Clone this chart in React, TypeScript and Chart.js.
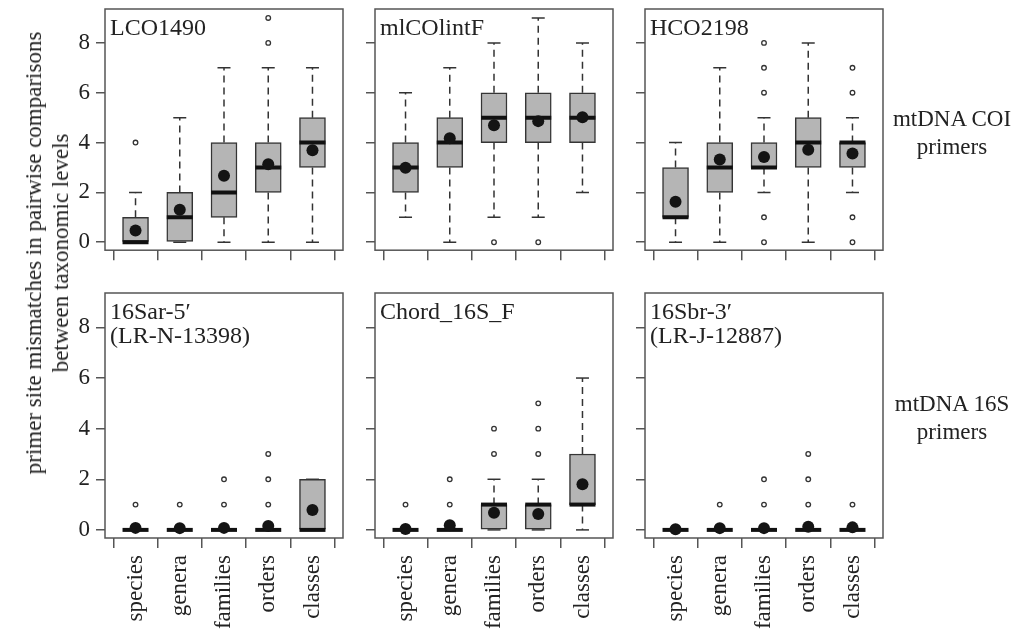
import React, { useEffect, useRef } from 'react';
import { Chart, registerables } from 'chart.js';

Chart.register(...registerables);

const categories = ['species', 'genera', 'families', 'orders', 'classes'];
const yTickValues = [0, 2, 4, 6, 8];

// LCO1490
const lcoLow = [0, 0, 0, 0, 0];
const lcoQ1 = [0, 0, 1, 2, 3];
const lcoMedian = [0, 1, 2, 3, 4];
const lcoQ3 = [1, 2, 4, 4, 5];
const lcoHigh = [2, 5, 7, 7, 7];
const lcoMean = [0.47, 1.3, 2.67, 3.13, 3.69];
const lcoOutliers = [[4], [], [], [8, 9], []];

// mlCOlintF
const mlcLow = [1, 0, 1, 1, 2];
const mlcQ1 = [2, 3, 4, 4, 4];
const mlcMedian = [3, 4, 5, 5, 5];
const mlcQ3 = [4, 5, 6, 6, 6];
const mlcHigh = [6, 7, 8, 9, 8];
const mlcMean = [2.99, 4.17, 4.69, 4.86, 5.02];
const mlcOutliers = [[], [], [0], [0], []];

// HCO2198
const hcoLow = [0, 0, 2, 0, 2];
const hcoQ1 = [1, 2, 3, 3, 3];
const hcoMedian = [1, 3, 3, 4, 4];
const hcoQ3 = [3, 4, 4, 5, 4];
const hcoHigh = [4, 7, 5, 8, 5];
const hcoMean = [1.62, 3.32, 3.42, 3.71, 3.56];
const hcoOutliers = [[], [], [0, 1, 6, 7, 8], [], [0, 1, 6, 7]];

// 16Sar-5' (LR-N-13398)
const sarLow = [0, 0, 0, 0, 0];
const sarQ1 = [0, 0, 0, 0, 0];
const sarMedian = [0, 0, 0, 0, 0];
const sarQ3 = [0, 0, 0, 0, 2];
const sarHigh = [0, 0, 0, 0, 2];
const sarMean = [0.08, 0.07, 0.08, 0.15, 0.79];
const sarOutliers = [[1], [1], [1, 2], [1, 2, 3], []];

// Chord_16S_F
const chdLow = [0, 0, 0, 0, 0];
const chdQ1 = [0, 0, 0, 0, 1];
const chdMedian = [0, 0, 1, 1, 1];
const chdQ3 = [0, 0, 1, 1, 3];
const chdHigh = [0, 0, 2, 2, 6];
const chdMean = [0.04, 0.18, 0.68, 0.63, 1.8];
const chdOutliers = [[1], [1, 2], [3, 4], [3, 4, 5], []];

// 16Sbr-3' (LR-J-12887)
const sbrLow = [0, 0, 0, 0, 0];
const sbrQ1 = [0, 0, 0, 0, 0];
const sbrMedian = [0, 0, 0, 0, 0];
const sbrQ3 = [0, 0, 0, 0, 0];
const sbrHigh = [0, 0, 0, 0, 0];
const sbrMean = [0.03, 0.07, 0.07, 0.12, 0.1];
const sbrOutliers = [[], [1], [1, 2], [1, 2, 3], [1]];

const FONT = "'Liberation Serif', 'Times New Roman', serif";
const FONT_SIZE = 23;
const TITLE_SIZE = 24;

type PanelData = {
  title: string[];
  low: number[];
  q1: number[];
  median: number[];
  q3: number[];
  high: number[];
  mean: number[];
  outliers: number[][];
};

const panels: PanelData[] = [
  { title: ['LCO1490'], low: lcoLow, q1: lcoQ1, median: lcoMedian, q3: lcoQ3, high: lcoHigh, mean: lcoMean, outliers: lcoOutliers },
  { title: ['mlCOlintF'], low: mlcLow, q1: mlcQ1, median: mlcMedian, q3: mlcQ3, high: mlcHigh, mean: mlcMean, outliers: mlcOutliers },
  { title: ['HCO2198'], low: hcoLow, q1: hcoQ1, median: hcoMedian, q3: hcoQ3, high: hcoHigh, mean: hcoMean, outliers: hcoOutliers },
  { title: ['16Sar-5\u2032', '(LR-N-13398)'], low: sarLow, q1: sarQ1, median: sarMedian, q3: sarQ3, high: sarHigh, mean: sarMean, outliers: sarOutliers },
  { title: ['Chord_16S_F'], low: chdLow, q1: chdQ1, median: chdMedian, q3: chdQ3, high: chdHigh, mean: chdMean, outliers: chdOutliers },
  { title: ['16Sbr-3\u2032', '(LR-J-12887)'], low: sbrLow, q1: sbrQ1, median: sbrMedian, q3: sbrQ3, high: sbrHigh, mean: sbrMean, outliers: sbrOutliers },
];

// layout (pixels)
const PANEL_W = 238;
const COLS = [
  { left: 105, yW: 62, showY: true },
  { left: 375, yW: 40, showY: false },
  { left: 645, yW: 40, showY: false },
];
const ROWS = [
  { top: 9, h: 247, xH: 14, showX: false },
  { top: 293, h: 245, xH: 100, showX: true },
];
const PAD = 30;
const X_MIN = -0.69;
const X_MAX = 4.69;
const Y_MIN = -0.32;
const Y_MAX = 9.36;

const framePlugin = {
  id: 'frame',
  afterDraw(chart: any) {
    const { ctx, chartArea } = chart;
    ctx.save();
    ctx.strokeStyle = '#555';
    ctx.lineWidth = 1.5;
    ctx.strokeRect(chartArea.left, chartArea.top, chartArea.right - chartArea.left, chartArea.bottom - chartArea.top);
    ctx.restore();
  },
};

function Panel({ data, col, row }: { data: PanelData; col: typeof COLS[0]; row: typeof ROWS[0] }) {
  const ref = useRef<HTMLCanvasElement>(null);
  const width = col.yW + PANEL_W + PAD;
  const height = PAD + row.h + row.xH;

  useEffect(() => {
    if (!ref.current) return;
    const n = categories.length;
    const whiskers: any[] = [];
    const caps: any[] = [];
    const medians: any[] = [];
    const boxes: any[] = [];
    const outliers: any[] = [];
    const means: any[] = [];
    for (let i = 0; i < n; i++) {
      if (data.high[i] > data.q3[i]) {
        whiskers.push({ x: i, y: data.q3[i] }, { x: i, y: data.high[i] }, { x: i, y: null });
      }
      if (data.low[i] < data.q1[i]) {
        whiskers.push({ x: i, y: data.q1[i] }, { x: i, y: data.low[i] }, { x: i, y: null });
      }
      caps.push({ x: i, y: data.high[i] }, { x: i, y: data.low[i] });
      medians.push({ x: i, y: data.median[i] });
      boxes.push({ x: i, y: [data.q1[i], data.q3[i]] });
      data.outliers[i].forEach((v) => outliers.push({ x: i, y: v }));
      means.push({ x: i, y: data.mean[i] });
    }

    const chart = new Chart(ref.current, {
      type: 'bar',
      data: {
        datasets: [
          {
            type: 'line',
            data: whiskers,
            borderColor: '#333',
            borderWidth: 1.5,
            borderDash: [7, 5],
            pointRadius: 0,
            spanGaps: false,
            fill: false,
            order: 6,
          } as any,
          {
            type: 'bar',
            data: boxes,
            backgroundColor: '#b5b5b5',
            borderColor: '#353535',
            borderWidth: 1.5,
            borderSkipped: false,
            barThickness: 26,
            order: 5,
          } as any,
          {
            type: 'scatter',
            data: caps,
            pointStyle: 'line',
            pointRadius: 6.5,
            borderColor: '#333',
            borderWidth: 1.5,
            order: 4,
          } as any,
          {
            type: 'scatter',
            data: medians,
            pointStyle: 'line',
            pointRadius: 13,
            borderColor: '#111',
            borderWidth: 4,
            order: 3,
          } as any,
          {
            type: 'scatter',
            data: outliers,
            pointStyle: 'circle',
            pointRadius: 2.3,
            borderWidth: 1.3,
            borderColor: '#333',
            backgroundColor: '#fff',
            order: 2,
          } as any,
          {
            type: 'scatter',
            data: means,
            pointStyle: 'circle',
            pointRadius: 6,
            borderWidth: 0,
            backgroundColor: '#141414',
            order: 1,
          } as any,
        ],
      },
      options: {
        responsive: false,
        animation: false,
        events: [],
        layout: { padding: { top: PAD, right: PAD, left: 0, bottom: 0 } },
        plugins: { legend: { display: false }, tooltip: { enabled: false }, title: { display: false } },
        scales: {
          x: {
            type: 'linear',
            min: X_MIN,
            max: X_MAX,
            offset: false,
            grid: { display: true, drawOnChartArea: false, drawTicks: true, tickLength: 10, color: '#555', lineWidth: 1.5 },
            border: { display: false },
            afterBuildTicks: (s: any) => {
              s.ticks = categories.map((_, i) => ({ value: i }));
            },
            afterFit: (s: any) => {
              s.height = row.xH;
            },
            ticks: {
              autoSkip: false,
              minRotation: 90,
              maxRotation: 90,
              padding: 7,
              color: '#222',
              font: { family: FONT, size: FONT_SIZE },
              callback: (v: any) => (row.showX ? categories[Math.round(Number(v))] : ''),
            },
          },
          y: {
            type: 'linear',
            min: Y_MIN,
            max: Y_MAX,
            beginAtZero: false,
            grid: { display: true, drawOnChartArea: false, drawTicks: true, tickLength: 9, color: '#555', lineWidth: 1.5 },
            border: { display: false },
            afterBuildTicks: (s: any) => {
              s.ticks = yTickValues.map((v) => ({ value: v }));
            },
            afterFit: (s: any) => {
              s.width = col.yW;
            },
            ticks: {
              padding: 6,
              color: '#222',
              font: { family: FONT, size: FONT_SIZE },
              callback: (v: any) => (col.showY ? String(v) : ''),
            },
          },
        },
      },
      plugins: [framePlugin],
    } as any);
    return () => chart.destroy();
  }, [data, col, row]);

  return (
    <canvas
      ref={ref}
      width={width}
      height={height}
      style={{ position: 'absolute', left: col.left - col.yW, top: row.top - PAD, width, height, display: 'block' }}
    />
  );
}

const textStyle: React.CSSProperties = {
  position: 'absolute',
  fontFamily: FONT,
  fontSize: FONT_SIZE,
  color: '#222',
  whiteSpace: 'nowrap',
};

export default function App() {
  return (
    <div style={{ position: 'absolute', left: 0, top: 0, width: 1015, height: 633, background: '#fff', overflow: 'hidden' }}>
      {panels.map((p, idx) => {
        const col = COLS[idx % 3];
        const row = ROWS[Math.floor(idx / 3)];
        return <Panel key={idx} data={p} col={col} row={row} />;
      })}
      {panels.map((p, idx) => {
        const col = COLS[idx % 3];
        const row = ROWS[Math.floor(idx / 3)];
        return (
          <div
            key={'t' + idx}
            style={{ ...textStyle, fontSize: TITLE_SIZE, left: col.left + 5, top: row.top + 6, lineHeight: '24px' }}
          >
            {p.title.map((t, k) => (
              <div key={k}>{t}</div>
            ))}
          </div>
        );
      })}
      <div style={{ ...textStyle, left: 952, top: 105, lineHeight: '28px', textAlign: 'center', transform: 'translateX(-50%)' }}>
        <div>mtDNA COI</div>
        <div>primers</div>
      </div>
      <div style={{ ...textStyle, left: 952, top: 390, lineHeight: '28px', textAlign: 'center', transform: 'translateX(-50%)' }}>
        <div>mtDNA 16S</div>
        <div>primers</div>
      </div>
      <div
        style={{
          ...textStyle,
          left: 46.5,
          top: 253,
          lineHeight: '27px',
          textAlign: 'center',
          transform: 'translate(-50%, -50%) rotate(-90deg)',
        }}
      >
        <div>primer site mismatches in pairwise comparisons</div>
        <div>between taxonomic levels</div>
      </div>
    </div>
  );
}
